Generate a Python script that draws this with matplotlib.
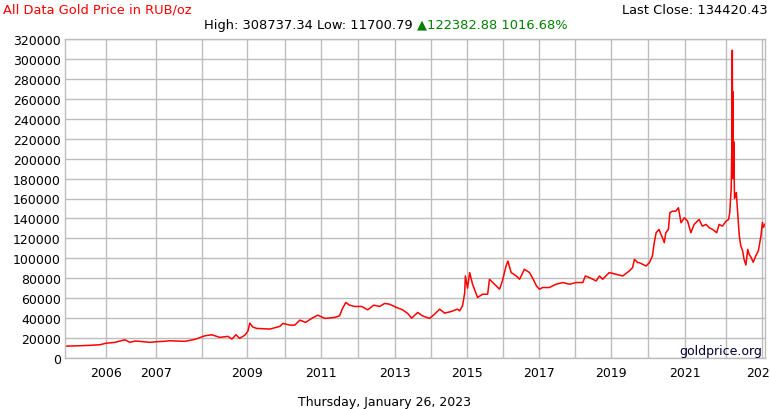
import numpy as np
import matplotlib
matplotlib.use("Agg")
import matplotlib.pyplot as plt
from matplotlib.scale import FuncScale

# price readings (decimal year, RUB per oz)
dates = [
    2005.20, 2005.48, 2005.68, 2005.88, 2006.00, 2006.18, 2006.38, 2006.48, 2006.58, 2006.68,
    2006.88, 2007.00, 2007.20, 2007.30, 2007.63, 2007.85, 2008.07, 2008.22, 2008.40, 2008.58,
    2008.67, 2008.76, 2008.84, 2008.96, 2009.03, 2009.08, 2009.16, 2009.26, 2009.61, 2009.87,
    2009.95, 2010.14, 2010.28, 2010.42, 2010.58, 2010.75, 2010.92, 2011.11, 2011.38, 2011.51,
    2011.59, 2011.68, 2011.78, 2011.92, 2012.11, 2012.27, 2012.43, 2012.59, 2012.72, 2012.85,
    2013.04, 2013.21, 2013.35, 2013.46, 2013.63, 2013.76, 2013.96, 2014.10, 2014.24, 2014.38,
    2014.57, 2014.74, 2014.80, 2014.88, 2014.94, 2014.96, 2015.02, 2015.08, 2015.16, 2015.30,
    2015.44, 2015.58, 2015.63, 2015.77, 2015.91, 2015.99, 2016.09, 2016.14, 2016.23, 2016.37,
    2016.46, 2016.59, 2016.73, 2016.83, 2016.92, 2017.00, 2017.09, 2017.28, 2017.47, 2017.66,
    2017.85, 2018.03, 2018.22, 2018.29, 2018.40, 2018.59, 2018.68, 2018.77, 2018.95, 2019.14,
    2019.32, 2019.50, 2019.59, 2019.64, 2019.73, 2019.77, 2019.96, 2020.05, 2020.13, 2020.18,
    2020.23, 2020.31, 2020.36, 2020.40, 2020.45, 2020.49, 2020.56, 2020.60, 2020.67, 2020.76,
    2020.83, 2020.87, 2020.90, 2020.99, 2021.07, 2021.15, 2021.23, 2021.35, 2021.43, 2021.52,
    2021.60, 2021.68, 2021.78, 2021.84, 2021.92, 2022.01, 2022.08, 2022.11, 2022.15, 2022.17,
    2022.18, 2022.19, 2022.20, 2022.205, 2022.22, 2022.24, 2022.28, 2022.29, 2022.32, 2022.37,
    2022.41, 2022.46, 2022.50, 2022.55, 2022.60, 2022.64, 2022.69, 2022.75, 2022.82, 2022.89,
    2022.96, 2023.00, 2023.03, 2023.07,
]
prices = [
    11900, 12300, 12700, 13300, 14800, 15700, 18300, 15700, 17000, 16700,
    15700, 16300, 16800, 17300, 16700, 18700, 22300, 23300, 20700, 21700,
    19000, 23300, 19700, 23000, 27000, 35000, 31000, 29700, 29000, 31700,
    34700, 33000, 33000, 38000, 35700, 39700, 43000, 39700, 40700, 42300,
    49700, 55700, 53000, 51700, 51700, 48300, 53000, 51700, 54700, 54000,
    50700, 48300, 44700, 40000, 45700, 42300, 39700, 44000, 49000, 45000,
    46700, 49000, 47300, 52300, 65000, 82300, 70000, 85700, 74000, 60700,
    64000, 64000, 79000, 74000, 69000, 77300, 92300, 97300, 85700, 82300,
    79000, 89000, 85700, 79000, 72300, 69000, 70700, 70700, 74000, 75700,
    74000, 75700, 75700, 82300, 80700, 77300, 82300, 79000, 85700, 84000,
    82300, 87300, 90700, 99000, 95700, 95700, 92300, 95700, 102300, 115700,
    125700, 129000, 124000, 120700, 115700, 125700, 129000, 145700, 147300, 147300,
    150700, 142300, 135700, 140700, 137300, 125700, 134000, 139000, 132300, 134000,
    130700, 129000, 125700, 134000, 132300, 137300, 139000, 145700, 170000, 220000,
    308737, 200000, 267000, 180000, 217000, 160000, 163000, 166000, 149000, 122700,
    112600, 107600, 99000, 93300, 109000, 104000, 101000, 96000, 102600, 107600,
    122700, 136000, 131000, 134420,
]

y_ticks = list(range(0, 320001, 20000))
grid_years = list(range(2006, 2024))
label_years = [2006, 2007, 2009, 2011, 2013, 2015, 2017, 2019, 2021, 2023]

# the site's time axis is not linear; these are where the year lines sit
scale_years = [2005] + grid_years + [2024]
scale_pos = [56, 106, 156, 202, 247, 285, 321, 358, 395.5, 431.5, 467.3,
             503.3, 540, 575.5, 611.7, 648.3, 685.5, 726.5, 763.3, 800]


def forward(x):
    return np.interp(x, scale_years, scale_pos)


def inverse(x):
    return np.interp(x, scale_pos, scale_years)


fig = plt.figure(figsize=(7.7, 4.1), dpi=100)
ax = fig.add_axes([65 / 770, 51 / 410, 700 / 770, 319 / 410])
ax.set_xscale(FuncScale(ax, (forward, inverse)))

ax.plot(dates, prices, color="#ff0000", linewidth=1.1)

ax.set_xlim(2005.18, 2023.07)
ax.set_ylim(0, 320000)

grid_color = "#bdbdbd"
ax.set_xticks(label_years)
ax.set_xticklabels([str(y) for y in label_years])
ax.set_xticks([y for y in grid_years if y not in label_years], minor=True)
ax.set_yticks(y_ticks)
ax.set_yticklabels([str(v) for v in y_ticks])
ax.grid(True, which="both", color=grid_color, linewidth=1)
ax.set_axisbelow(True)
ax.tick_params(axis="both", which="both", length=0, labelsize=9, colors="#000000")
ax.tick_params(axis="x", pad=6)
ax.tick_params(axis="y", pad=3)
for s in ax.spines.values():
    s.set_color(grid_color)
    s.set_linewidth(1)

top_size = 9.4
fig.text(3 / 770, 1 - 10 / 410, "All Data Gold Price in RUB/oz", color="#ff0000",
         fontsize=top_size, ha="left", va="center")
fig.text(768 / 770, 1 - 10 / 410, "Last Close: 134420.43", color="#000000",
         fontsize=top_size, ha="right", va="center")
fig.text(413 / 770, 1 - 25 / 410, "High: 308737.34 Low: 11700.79", color="#000000",
         fontsize=top_size, ha="right", va="center")
fig.text(417 / 770, 1 - 25 / 410, "\u25b2122382.88 1016.68%", color="#008000",
         fontsize=top_size, ha="left", va="center")
ax.text(0.996, 0.004, "goldprice.org", transform=ax.transAxes, color="#000033",
        fontsize=9, ha="right", va="bottom")
fig.text(385 / 770, 1 - 403 / 410, "Thursday, January 26, 2023", color="#000000",
         fontsize=9, ha="center", va="center")

fig.savefig("out.png", dpi=100)
